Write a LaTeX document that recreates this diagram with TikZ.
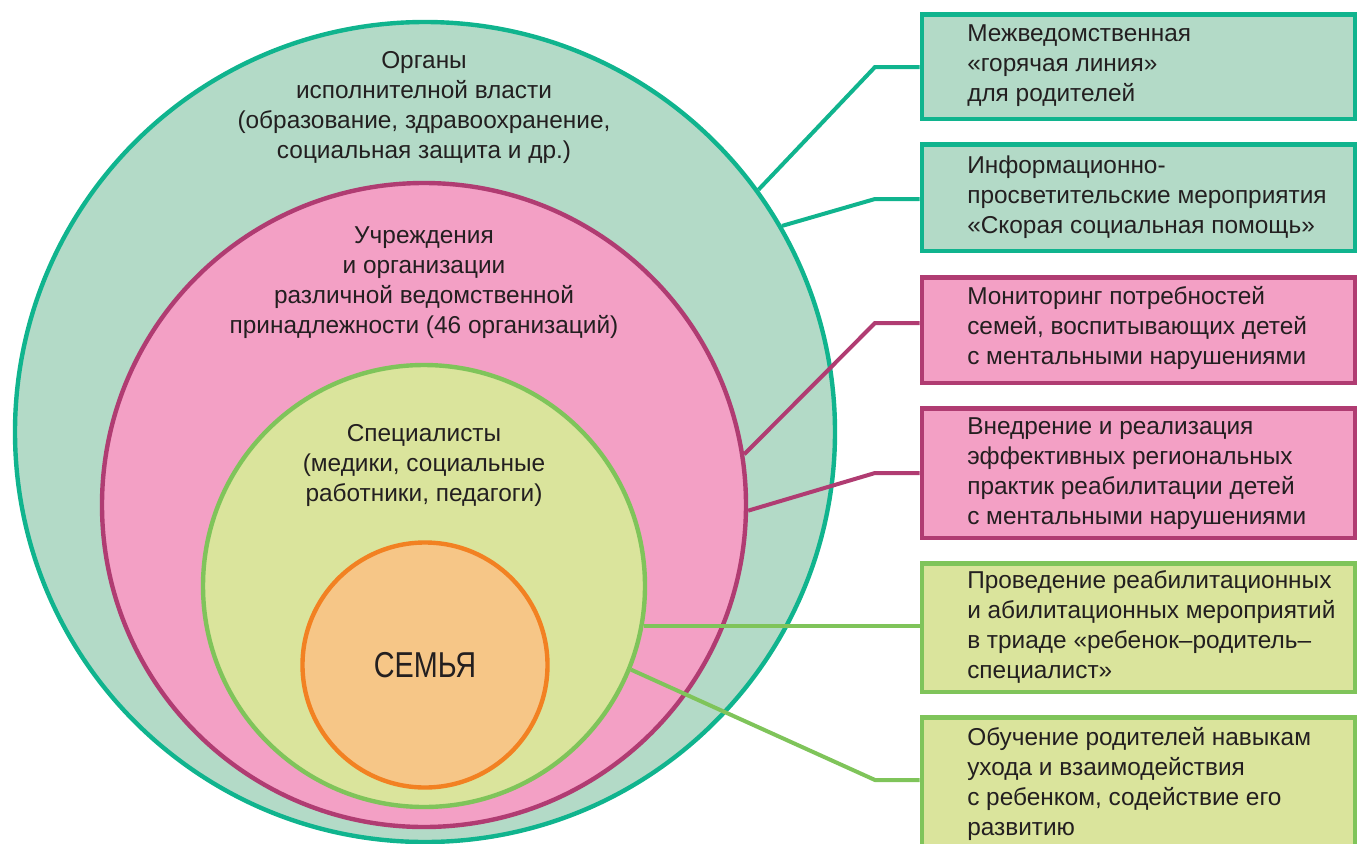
\documentclass[tikz,border=0pt]{standalone}
\usepackage{fontspec}
\setmainfont{Liberation Sans}
\newfontfamily\semfont{Liberation Sans}[FakeStretch=0.8]
\definecolor{tealL}{HTML}{10B48E}
\definecolor{tealF}{HTML}{B3DAC7}
\definecolor{magL}{HTML}{B03C72}
\definecolor{pinkF}{HTML}{F3A0C5}
\definecolor{grnL}{HTML}{7FC45A}
\definecolor{grnF}{HTML}{DAE49C}
\definecolor{orgL}{HTML}{F28122}
\definecolor{orgF}{HTML}{F6C687}
\definecolor{txt}{HTML}{231F20}
\begin{document}
\begin{tikzpicture}[x=0.75pt,y=-0.75pt,
  ring/.style={circle,inner sep=0pt,line width=3.3pt},
  boxn/.style={rectangle,inner sep=0pt,line width=3.6pt,minimum width=324.75pt},
  conn/.style={line width=3pt},
  ctext/.style={align=center,text=txt,font=\fontsize{18.3}{22.5}\selectfont},
  btext/.style={align=left,anchor=west,text=txt,font=\fontsize{18.3}{22.5}\selectfont,inner sep=0pt}
]
\useasboundingbox (0,0) rectangle (1359,843);
\clip (0,0) rectangle (1359,843);
% rings
\node[ring,draw=tealL,fill=tealF,minimum size=615pt] (outer) at (425,432) {};
\node[ring,draw=magL,fill=pinkF,minimum size=483pt] (pink) at (424,505) {};
\node[ring,draw=grnL,fill=grnF,minimum size=331.5pt] (green) at (424,586) {};
\node[ring,draw=orgL,fill=orgF,minimum size=183.75pt] (family) at (425,665) {};
% ring labels
\node[ctext] (lo) at (424,108) {Органы\\исполнителной власти\\(образование, здравоохранение,\\социальная защита и др.)};
\node[ctext] (lp) at (424,283) {Учреждения\\и организации\\различной ведомственной\\принадлежности (46 организаций)};
\node[ctext] (lg) at (424,466) {Специалисты\\(медики, социальные\\работники, педагоги)};
\node[text=txt,font=\semfont\fontsize{27}{30}\selectfont] (lf) at (425,665) {СЕМЬЯ};
% boxes
\node[boxn,draw=tealL,fill=tealF,minimum height=78.4pt] (b1) at (1138.5,66.75) {};
\node[boxn,draw=tealL,fill=tealF,minimum height=79.9pt] (b2) at (1138.5,197.75) {};
\node[boxn,draw=magL,fill=pinkF,minimum height=79.1pt] (b3) at (1138.5,330.25) {};
\node[boxn,draw=magL,fill=pinkF,minimum height=97.1pt] (b4) at (1138.5,473.25) {};
\node[boxn,draw=grnL,fill=grnF,minimum height=96.4pt] (b5) at (1138.5,627.75) {};
\node[boxn,draw=grnL,fill=grnF,minimum height=99.4pt] (b6) at (1138.5,783.75) {};
\node[btext] (t1) at (967,66) {Межведомственная\\«горячая линия»\\для родителей};
\node[btext] (t2) at (967,197) {Информационно-\\просветительские мероприятия\\«Скорая социальная помощь»};
\node[btext] (t3) at (967,328) {Мониторинг потребностей\\семей, воспитывающих детей\\с ментальными нарушениями};
\node[btext] (t4) at (967,474) {Внедрение и реализация\\эффективных региональных\\практик реабилитации детей\\с ментальными нарушениями};
\node[btext] (t5) at (967,627) {Проведение реабилитационных\\и абилитационных мероприятий\\в триаде «ребенок–родитель–\\специалист»};
\node[btext] (t6) at (967,784) {Обучение родителей навыкам\\ухода и взаимодействия\\с ребенком, содействие его\\развитию};
% connectors
\coordinate (e1) at (875,67);
\coordinate (e2) at (875,199);
\coordinate (e3) at (875,323);
\coordinate (e4) at (875,473);
\coordinate (e5) at (875,626);
\coordinate (e6) at (875,780);
\draw[conn,tealL] (b1.west |- e1) -- (e1) -- (outer.36.7);
\draw[conn,tealL] (b2.west |- e2) -- (e2) -- (outer.30.8);
\draw[conn,magL] (b3.west |- e3) -- (e3) -- (pink.9.75);
\draw[conn,magL] (b4.west |- e4) -- (e4) -- (pink.-1.8);
\draw[conn,grnL] (b5.west |- e5) -- (e5 -| green.-10.3);
\draw[conn,grnL] (b6.west |- e6) -- (e6) -- (green.-22.6);
\end{tikzpicture}
\end{document}
